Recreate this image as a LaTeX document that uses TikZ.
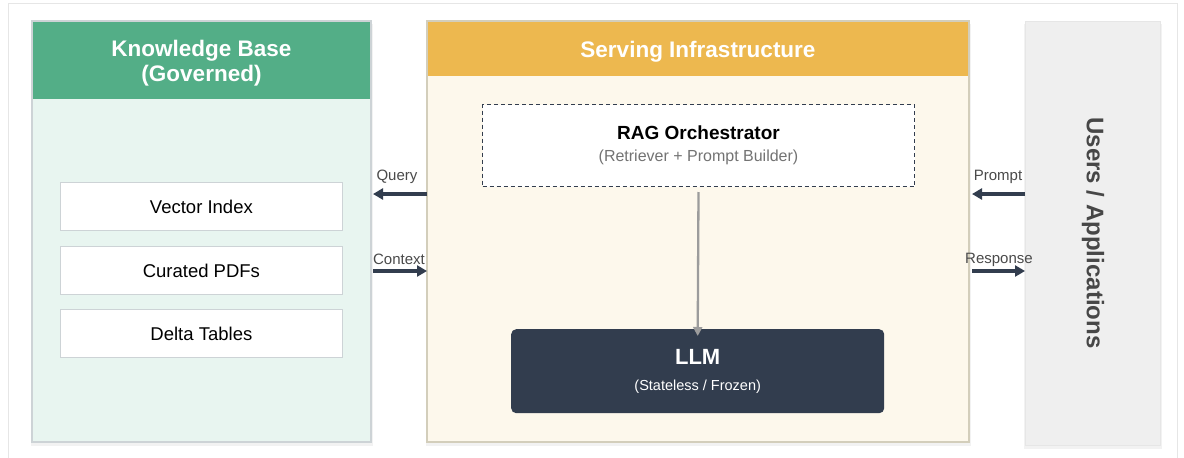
\documentclass[tikz,border=0pt]{standalone}
\usepackage{fontspec}
\setmainfont{Liberation Sans}
\usetikzlibrary{arrows.meta}
\definecolor{kbhead}{HTML}{53AE87}
\definecolor{kbbody}{HTML}{E8F5F0}
\definecolor{sihead}{HTML}{EDB84F}
\definecolor{sibody}{HTML}{FDF8EC}
\definecolor{usrfill}{HTML}{EFEFEF}
\definecolor{dark}{HTML}{323D4E}
\definecolor{edge}{HTML}{CDD3D6}
\definecolor{frame}{HTML}{E6E6E6}
\definecolor{arrowgray}{HTML}{9C9C9C}
\definecolor{lbl}{HTML}{4A4A4A}
\begin{document}
\begin{tikzpicture}[x=1pt,y=-1pt,
  softshadow/.style={fill=black,opacity=0.05},
  storebox/.style={draw=edge,line width=0.8pt,fill=white,minimum width=282pt,minimum height=48pt,font=\fontsize{18.5}{21}\selectfont,anchor=north west},
  headtext/.style={text=white,font=\bfseries\fontsize{22.5}{25}\selectfont,align=center},
  flow/.style={draw=dark,line width=3.4pt,-{Triangle[length=10pt,width=11pt]}},
  flowlbl/.style={text=lbl,font=\fontsize{15}{18}\selectfont},
]
\useasboundingbox (0,0) rectangle (1184,458);
\fill[white] (0,0) rectangle (1184,458);
\draw[frame,line width=1pt] (8,470) -- (8,3) -- (1177,3) -- (1177,470);

% soft shadows
\fill[softshadow] (31,24) rectangle (373,446);
\fill[softshadow] (426,24) rectangle (971,446);
\fill[softshadow] (1024,24) rectangle (1162,449);
\fill[black,opacity=0.03] (59,184) rectangle (344,233);
\fill[black,opacity=0.03] (59,248) rectangle (344,297);
\fill[black,opacity=0.03] (59,311) rectangle (344,360);

% Knowledge base panel
\fill[kbbody] (32,21) rectangle (371,442);
\fill[kbhead] (32,21) rectangle (371,99);
\draw[edge,line width=1.2pt] (32,21) rectangle (371,442);
\node[headtext] (kbtitle) at (201.5,63) {Knowledge Base\\(Governed)};

\node[storebox] (vec) at (60,182) {Vector Index};
\node[storebox] (pdf) at (60,246) {Curated PDFs};
\node[storebox] (delta) at (60,309) {Delta Tables};

% Serving infrastructure panel
\fill[sibody] (427,21) rectangle (969,442);
\fill[sihead] (427,21) rectangle (969,76);
\draw[edge!80!sihead,line width=1.2pt] (427,21) rectangle (969,442);
\node[headtext] (sititle) at (698,51.5) {Serving Infrastructure};

\node[draw=dark,dash pattern=on 4pt off 3pt,line width=1pt,fill=white,minimum width=432pt,minimum height=82pt,anchor=north west,align=center,font=\fontsize{16}{22}\selectfont] (rag) at (482,104)
  {{\bfseries\fontsize{19}{22}\selectfont RAG Orchestrator}\\{\color{black!55}(Retriever + Prompt Builder)}};

\node[fill=dark,rounded corners=5pt,minimum width=373pt,minimum height=84pt,anchor=north west,align=center,text=white,font=\fontsize{14.5}{26}\selectfont] (llm) at (511,329)
  {{\bfseries\fontsize{22}{25}\selectfont LLM}\\(Stateless / Frozen)};

\draw[arrowgray,line width=2.3pt,-{Triangle[length=9pt,width=9pt]}] ([yshift=-5pt]rag.south) -- ([yshift=-7pt]llm.north);

% Users panel
\node[fill=usrfill,draw=frame,line width=1pt,minimum width=135pt,minimum height=424pt,anchor=north west] (users) at (1025,21) {};
\node[rotate=-90,text=black!72,font=\bfseries\fontsize{24}{27}\selectfont] (userstext) at (1093,233) {Users / Applications};

% Connectors
\coordinate (qs) at (427,194);
\coordinate (qe) at (373,194);
\coordinate (cs) at (373,271);
\coordinate (ce) at (427,271);
\coordinate (ps) at (1025,194);
\coordinate (pe) at (972,194);
\coordinate (rs) at (972,271);
\coordinate (re) at (1025,271);
\draw[flow] (qs) -- (qe);
\draw[flow] (cs) -- (ce);
\draw[flow] (ps) -- (pe);
\draw[flow] (rs) -- (re);
\node[flowlbl] (ql) at (397,177) {Query};
\node[flowlbl] (cl) at (399,259.5) {Context};
\node[flowlbl] (pl) at (998,177) {Prompt};
\node[flowlbl] (rl) at (999,259.5) {Response};
\end{tikzpicture}
\end{document}
